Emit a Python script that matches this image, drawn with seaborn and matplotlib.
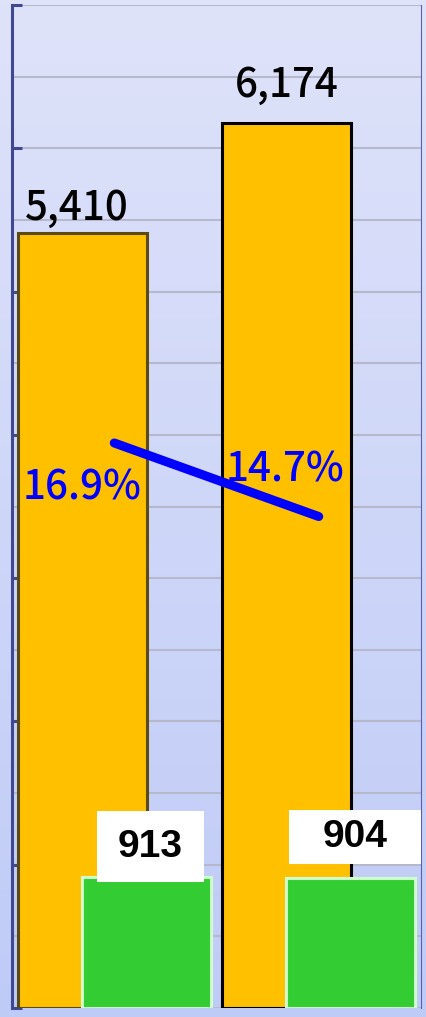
import numpy as np
import pandas as pd
import matplotlib
matplotlib.use('Agg')
import matplotlib.pyplot as plt
import seaborn as sns
from matplotlib.colors import LinearSegmentedColormap
from matplotlib.ticker import MultipleLocator

# data
years = ['前年度', '今年度']
sales = [5410, 6174]          # 오렌지 막대
other = [913, 904]            # 초록 막대
ratio = [16.9, 14.7]          # 비율(%) - 보조축
sales_labels = ['5,410', '6,174']
other_labels = ['913', '904']
ratio_labels = ['16.9%', '14.7%']

# label offsets (points)
sales_off = [(-4, 18), (0, 27.5)]
other_off = [(3, 22), (3, 30)]
ratio_off = [(-23, -32.5), (-24, 33.5)]
box_style = [(0.54, 0.83), (0.85, 0.27)]   # (pad, aspect)

sns.set_theme(style='white')
plt.rcParams['font.family'] = ['Noto Sans CJK JP', 'DejaVu Sans']

fig = plt.figure(figsize=(4.27, 10.17), dpi=100)

# background gradient
bg = fig.add_axes([0, 0, 1, 1], zorder=-10)
cmap = LinearSegmentedColormap.from_list('bg', ['#dfe3fa', '#bfcbf7'])
bg.imshow(np.linspace(0, 1, 256).reshape(-1, 1), aspect='auto', cmap=cmap,
          extent=[0, 1, 0, 1])
bg.axis('off')

ax = fig.add_axes([0.0281, 0.00885, 0.9578, 0.98623])
ax.patch.set_alpha(0)

df = pd.DataFrame({'year': years, 'sales': sales, 'other': other, 'ratio': ratio})

sns.barplot(data=df, x='year', y='sales', color='#FFC000', saturation=1,
            width=0.63, errorbar=None, edgecolor='black', linewidth=2.2, ax=ax)
n = len(ax.patches)
sns.barplot(data=df, x='year', y='other', color='#33CC33', saturation=1,
            width=0.63, errorbar=None, edgecolor='#ccffcc', linewidth=2.2, ax=ax)

shift = 0.157
for i, p in enumerate(ax.patches):
    p.set_x(p.get_x() + (-shift if i < n else shift))
ax.patches[0].set_edgecolor('#5c4b10')

ax.set_xlim(-0.5, 1.5)
ax.set_ylim(0, 7000)
ax.yaxis.set_major_locator(MultipleLocator(1000))
ax.yaxis.set_minor_locator(MultipleLocator(500))
ax.set_axisbelow(True)
ax.grid(which='both', axis='y', color='#b6b8cc', lw=1.5)
ax.tick_params(axis='y', which='major', direction='in', length=7, width=2.2,
               color='#404890', left=True, labelleft=False)
ax.tick_params(axis='y', which='minor', length=0)
ax.tick_params(axis='x', bottom=False, labelbottom=False)
ax.set_xlabel('')
ax.set_ylabel('')
for s in ['top', 'bottom']:
    ax.spines[s].set_visible(False)
ax.spines['left'].set_color('#404890')
ax.spines['left'].set_linewidth(2.2)
ax.spines['right'].set_color('#5a60b0')
ax.spines['right'].set_linewidth(0.8)

# 값 라벨
for i in range(len(years)):
    ax.annotate(sales_labels[i], (i - shift, sales[i]), xytext=sales_off[i],
                textcoords='offset points', ha='center', va='center',
                fontsize=29, color='black', fontweight='medium')
    pad, asp = box_style[i]
    ax.annotate(other_labels[i], (i + shift, other[i]), xytext=other_off[i],
                textcoords='offset points', ha='center', va='center',
                fontsize=28, fontweight='bold', family='Liberation Sans',
                color='black',
                bbox=dict(boxstyle='square,pad=%s' % pad, mutation_aspect=asp,
                          facecolor='white', edgecolor='none'))

# 보조축 : 비율 선
ax2 = ax.twinx()
sns.lineplot(x=np.arange(len(years)), y=ratio, color='#0000FF', lw=6.5,
             solid_capstyle='round', ax=ax2)
ax2.set_ylim(0, 30)
ax2.axis('off')
for i in range(len(years)):
    ax2.annotate(ratio_labels[i], (i, ratio[i]), xytext=ratio_off[i],
                 textcoords='offset points', ha='center', va='center',
                 fontsize=29, color='#0000FF', fontweight='medium')

fig.savefig('out.png', dpi=100)
